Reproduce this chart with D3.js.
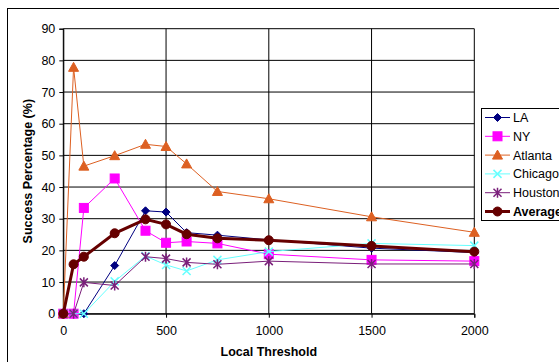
<!DOCTYPE html>
<html>
<head>
<meta charset="utf-8">
<script src="https://cdn.jsdelivr.net/npm/d3@7"></script>
<style>
  body { margin: 0; background: #fff; }
  text { font-family: "Liberation Sans", Arial, sans-serif; }
</style>
</head>
<body>
<svg id="chart" width="559" height="362"></svg>
<script>
// data
const thresholds = [0, 50, 100, 250, 400, 500, 600, 750, 1000, 1500, 2000];
const la      = [0, 0, 0, 15.2, 32.5, 32.1, 25.6, 24.8, 23.3, 20.7, 19.3];
const ny      = [0, 0, 33.4, 42.7, 26.2, 22.4, 22.8, 22.2, 18.8, 17.0, 16.6];
const atlanta = [0, 77.8, 46.6, 49.9, 53.5, 52.8, 47.3, 38.6, 36.3, 30.6, 25.7];
const chicago = [0, 0, 0, 10.2, 18.2, 15.4, 13.5, 17.0, 19.6, 22.2, 21.5];
const houston = [0, 0, 9.9, 8.9, 18.0, 17.4, 16.2, 15.6, 16.6, 15.7, 15.7];
const average = [0, 15.6, 18.0, 25.4, 29.8, 28.2, 25.1, 23.8, 23.2, 21.4, 19.6];
const xTicks = [0, 500, 1000, 1500, 2000];
const yTicks = [0, 10, 20, 30, 40, 50, 60, 70, 80, 90];

const series = [
  { name: "LA",      values: la,      color: "#000080", marker: "diamond",  width: 1 },
  { name: "NY",      values: ny,      color: "#ff00ff", marker: "square",   width: 1 },
  { name: "Atlanta", values: atlanta, color: "#dd6022", marker: "triangle", width: 1 },
  { name: "Chicago", values: chicago, color: "#66ffff", marker: "cross",    width: 1 },
  { name: "Houston", values: houston, color: "#7a1f7a", marker: "star",     width: 1 },
  { name: "Average", values: average, color: "#660000", marker: "circle",   width: 3 }
];

const svg = d3.select("#chart");
const x = d3.scaleLinear().domain([0, 2000]).range([63.3, 474.3]);
const y = d3.scaleLinear().domain([0, 90]).range([313.7, 28.7]);

// outer frame (runs off the right/bottom edge)
svg.append("rect").attr("x", 7.5).attr("y", 8.5).attr("width", 600).attr("height", 400)
  .attr("fill", "none").attr("stroke", "#000").attr("stroke-width", 1);

// grid
const g = svg.append("g");
g.selectAll(".hg").data(yTicks).join("line")
  .attr("x1", x(0)).attr("x2", x(2000)).attr("y1", d => y(d)).attr("y2", d => y(d))
  .attr("stroke", "#000").attr("stroke-width", 1);
g.selectAll(".vg").data(xTicks).join("line")
  .attr("y1", y(0)).attr("y2", y(90)).attr("x1", d => x(d)).attr("x2", d => x(d))
  .attr("stroke", "#000").attr("stroke-width", 1);

// axes
const yAxis = svg.append("g").attr("transform", `translate(${x(0)},0)`)
  .call(d3.axisLeft(y).tickValues(yTicks).tickSize(4).tickPadding(4).tickFormat(d3.format("d")));
const xAxis = svg.append("g").attr("transform", `translate(0,${y(0)})`)
  .call(d3.axisBottom(x).tickValues(xTicks).tickSize(4).tickPadding(8).tickFormat(d3.format("d")));
[yAxis, xAxis].forEach(a => {
  a.select(".domain").attr("stroke", "#000");
  a.selectAll("text").attr("font-size", 12.5).attr("fill", "#000")
    .attr("font-family", "Liberation Sans, Arial, sans-serif");
});

svg.append("text").attr("x", x(1000)).attr("y", 356).attr("text-anchor", "middle")
  .attr("font-size", 12.5).attr("font-weight", 700).text("Local Threshold");
svg.append("text").attr("transform", `translate(32,${y(45)}) rotate(-90)`)
  .attr("text-anchor", "middle").attr("font-size", 12.5).attr("font-weight", 700)
  .text("Success Percentage (%)");

function marker(sel, s) {
  const c = s.color;
  if (s.marker === "diamond") {
    sel.append("path").attr("d", "M0,-4 L4,0 L0,4 L-4,0 Z").attr("fill", c).attr("stroke", c);
  } else if (s.marker === "square") {
    sel.append("rect").attr("x", -4.5).attr("y", -4.5).attr("width", 9).attr("height", 9)
      .attr("fill", c).attr("stroke", c);
  } else if (s.marker === "triangle") {
    sel.append("path").attr("d", "M0,-5 L5,4 L-5,4 Z").attr("fill", c).attr("stroke", c);
  } else if (s.marker === "cross") {
    sel.append("path").attr("d", "M-4,-4 L4,4 M4,-4 L-4,4").attr("stroke", c).attr("stroke-width", 1.5);
  } else if (s.marker === "star") {
    sel.append("path").attr("d", "M-4,-4 L4,4 M4,-4 L-4,4 M0,-5 L0,5").attr("stroke", c).attr("stroke-width", 1.5);
  } else {
    sel.append("circle").attr("r", 4.5).attr("fill", c).attr("stroke", c);
  }
}

const line = d3.line().x((d, i) => x(thresholds[i])).y(d => y(d));
series.forEach(s => {
  svg.append("path").datum(s.values).attr("d", line)
    .attr("fill", "none").attr("stroke", s.color).attr("stroke-width", s.width);
  s.values.forEach((v, i) => {
    const m = svg.append("g").attr("transform", `translate(${x(thresholds[i])},${y(v)})`);
    marker(m, s);
  });
});

// legend
const lg = svg.append("g");
lg.append("rect").attr("x", 481.5).attr("y", 108.5).attr("width", 100).attr("height", 112)
  .attr("fill", "#fff").attr("stroke", "#000");
series.forEach((s, i) => {
  const ly = 117.5 + i * 18.8;
  const e = lg.append("g");
  e.append("line").attr("x1", 485).attr("x2", 510).attr("y1", ly).attr("y2", ly)
    .attr("stroke", s.color).attr("stroke-width", s.width);
  marker(e.append("g").attr("transform", `translate(497.5,${ly})`), s);
  e.append("text").attr("x", 513).attr("y", ly + 4.5).attr("font-size", 12.5)
    .attr("font-weight", s.name === "Average" ? 700 : 400).text(s.name);
});
</script>
</body>
</html>
